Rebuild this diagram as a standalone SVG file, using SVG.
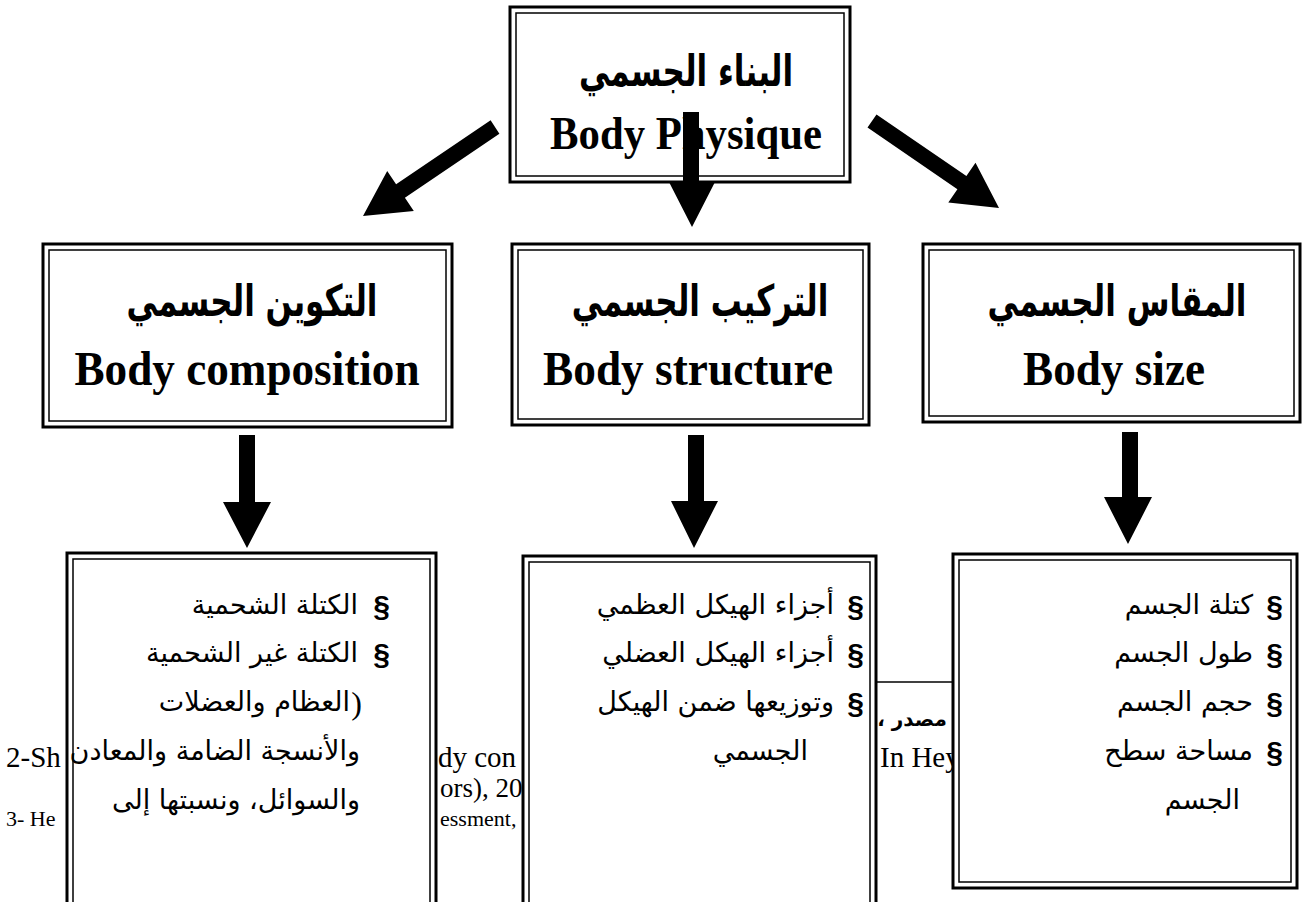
<svg xmlns="http://www.w3.org/2000/svg" width="1309" height="902" viewBox="0 0 1309 902">
<style>
.ob{fill:#fff;stroke:#000;stroke-width:3}
.ib{fill:none;stroke:#000;stroke-width:1.5}
.en{font-family:"Liberation Serif",serif;font-weight:bold;text-anchor:middle;fill:#000}
.arh{font-family:"DejaVu Sans",sans-serif;font-weight:bold;font-size:31px;text-anchor:middle;fill:#000}
.ar{font-family:"DejaVu Sans",sans-serif;font-size:27px;fill:#000}
.sec{font-family:"Liberation Sans",sans-serif;font-weight:bold;font-size:30px;text-anchor:end;fill:#000}
.fn{font-family:"Liberation Serif",serif;fill:#000}
.arw{fill:#000;stroke:none}
</style>
<rect width="1309" height="902" fill="#fff"/>
<g id="footnotes">
<line x1="873" y1="682" x2="957" y2="682" stroke="#000" stroke-width="1.5"/>
<text class="fn" x="6" y="767" font-size="29">2-Sh</text>
<text class="fn" x="438" y="767" font-size="29">dy con</text>
<text class="fn" x="880" y="767" font-size="29">In Hey</text>
<text class="fn" x="440" y="797" font-size="27">ors), 20</text>
<text class="fn" x="6" y="826" font-size="22">3- He</text>
<text class="fn" x="440" y="826" font-size="22">essment,</text>
<text x="912" y="726" font-family="DejaVu Sans, sans-serif" font-weight="bold" font-size="20" direction="rtl" text-anchor="middle">مصدر ،</text>
</g>
<g id="node-top">
<rect class="ob" x="510" y="7" width="340" height="175"/>
<rect class="ib" x="516" y="13" width="328" height="163"/>
<text class="arh" transform="translate(686,86) scale(1,1.4)">البناء الجسمي</text>
<text class="en" x="686" y="149" font-size="47" textLength="272" lengthAdjust="spacingAndGlyphs">Body Physique</text>
</g>
<g id="node-composition">
<rect class="ob" x="43" y="244" width="409" height="183"/>
<rect class="ib" x="49" y="250" width="397" height="171"/>
<text class="arh" transform="translate(252,316) scale(1,1.4)">التكوين الجسمي</text>
<text class="en" x="247" y="385" font-size="49" textLength="345" lengthAdjust="spacingAndGlyphs">Body composition</text>
</g>
<g id="node-structure">
<rect class="ob" x="512" y="244" width="357" height="181"/>
<rect class="ib" x="518" y="250" width="345" height="169"/>
<text class="arh" transform="translate(700,316) scale(1,1.4)">التركيب الجسمي</text>
<text class="en" x="688" y="385" font-size="49" textLength="290" lengthAdjust="spacingAndGlyphs">Body structure</text>
</g>
<g id="node-size">
<rect class="ob" x="923" y="244" width="377" height="178"/>
<rect class="ib" x="929" y="250" width="365" height="166"/>
<text class="arh" transform="translate(1117,316) scale(1,1.4)">المقاس الجسمي</text>
<text class="en" x="1114" y="385" font-size="49" textLength="182" lengthAdjust="spacingAndGlyphs">Body size</text>
</g>
<g id="node-composition-items">
<rect class="ob" x="67" y="553" width="369" height="370"/>
<rect class="ib" x="73" y="559" width="357" height="370"/>
<text class="sec" x="390" y="616">§</text>
<text class="ar" x="358" y="614" direction="rtl" text-anchor="start">الكتلة الشحمية</text>
<text class="sec" x="390" y="664">§</text>
<text class="ar" x="358" y="662" direction="rtl" text-anchor="start">الكتلة غير الشحمية</text>
<text x="362" y="714" font-family="Liberation Serif, serif" font-size="32" text-anchor="end">)</text>
<text class="ar" x="350" y="711" direction="rtl" text-anchor="start">العظام  والعضلات</text>
<text class="ar" x="360" y="760" direction="rtl" text-anchor="start">والأنسجة الضامة والمعادن</text>
<text class="ar" x="360" y="809" direction="rtl" text-anchor="start">والسوائل، ونسبتها إلى</text>
</g>
<g id="node-structure-items">
<rect class="ob" x="523" y="556" width="353" height="370"/>
<rect class="ib" x="529" y="562" width="341" height="370"/>
<text class="sec" x="864" y="616">§</text>
<text class="ar" x="834" y="614" direction="rtl" text-anchor="start">أجزاء الهيكل العظمي</text>
<text class="sec" x="864" y="664">§</text>
<text class="ar" x="834" y="662" direction="rtl" text-anchor="start">أجزاء الهيكل العضلي</text>
<text class="sec" x="864" y="713">§</text>
<text class="ar" x="834" y="711" direction="rtl" text-anchor="start">وتوزيعها  ضمن  الهيكل</text>
<text class="ar" x="808" y="760" direction="rtl" text-anchor="start">الجسمي</text>
</g>
<g id="node-size-items">
<rect class="ob" x="953" y="554" width="344" height="334"/>
<rect class="ib" x="959" y="560" width="332" height="322"/>
<text class="sec" x="1283" y="616">§</text>
<text class="ar" x="1253" y="614" direction="rtl" text-anchor="start">كتلة الجسم</text>
<text class="sec" x="1283" y="664">§</text>
<text class="ar" x="1253" y="662" direction="rtl" text-anchor="start">طول الجسم</text>
<text class="sec" x="1283" y="713">§</text>
<text class="ar" x="1253" y="711" direction="rtl" text-anchor="start">حجم الجسم</text>
<text class="sec" x="1283" y="762">§</text>
<text class="ar" x="1253" y="760" direction="rtl" text-anchor="start">مساحة سطح</text>
<text class="ar" x="1240" y="809" direction="rtl" text-anchor="start">الجسم</text>
</g>
<g id="connectors">
<polygon class="arw" points="490.6,120.3 499.4,133.7 404.9,197.7 413.8,211 363,216 387.2,171 396.1,184.3"/>
<polygon class="arw" points="683,112 699,112 699,182 715,182 692,227 669,182 683,182"/>
<polygon class="arw" points="876.5,114.4 867.5,127.6 957.4,189.2 948.3,202.4 999,208 975.5,162.8 966.4,176"/>
<polygon class="arw" points="239,435 255,435 255,502 271,502 247,548 223,502 239,502"/>
<polygon class="arw" points="688,435 704,435 704,501 718,501 694,548 671,501 688,501"/>
<polygon class="arw" points="1122,432 1138,432 1138,497 1152,497 1128,544 1104,497 1122,497"/>
</g>
</svg>
